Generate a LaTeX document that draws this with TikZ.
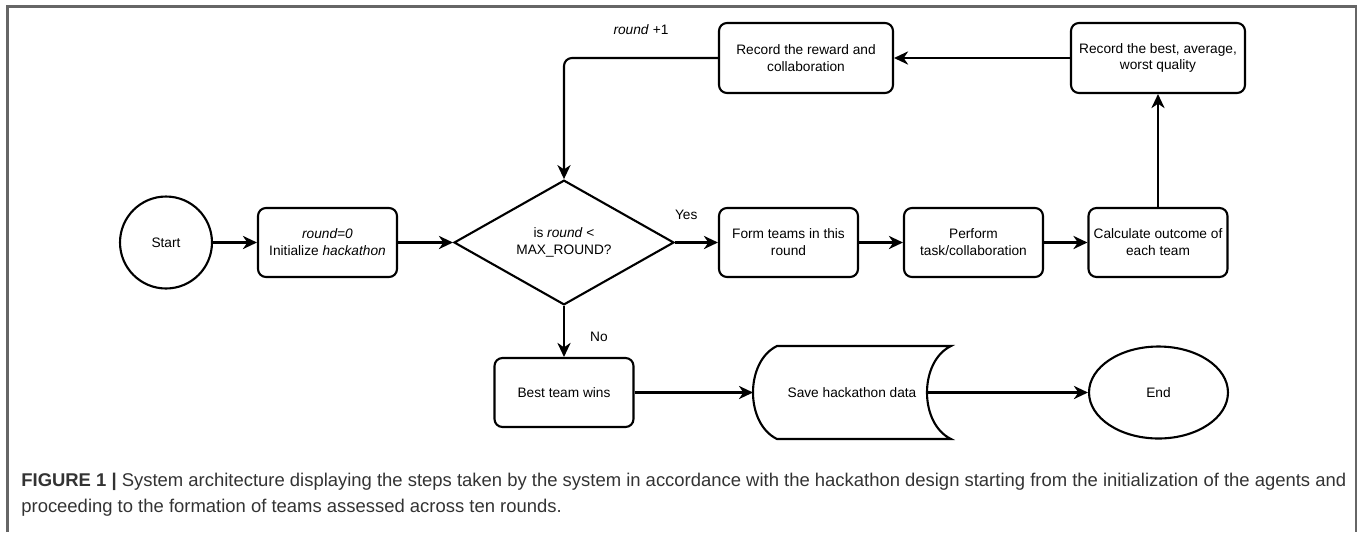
\documentclass[tikz,border=0pt]{standalone}
\usepackage{fontspec}
\setmainfont{Liberation Sans}
\usetikzlibrary{shapes.geometric, arrows.meta}

\begin{document}
\begin{tikzpicture}[x=0.02cm, y=-0.02cm,
	box/.style={draw, rounded corners=4.5pt, line width=1.2pt, align=center, minimum width=2.78cm, minimum height=1.38cm, inner sep=1pt, font=\fontsize{7.8}{9.6}\selectfont},
	widebox/.style={box, minimum width=3.48cm, minimum height=1.4cm},
	decision/.style={draw, diamond, line width=1.2pt, align=center, minimum width=4.4cm, minimum height=1.82cm, inner sep=0pt, font=\fontsize{7.8}{9.6}\selectfont},
	terminal/.style={draw, line width=1.2pt, inner sep=0pt, font=\fontsize{7.8}{9.6}\selectfont},
	arr/.style={line width=1.2pt, -{Stealth[length=8pt, width=7.5pt, inset=2.5pt]}},
	lbl/.style={font=\fontsize{7.8}{9.6}\selectfont, inner sep=1pt}]
	
	\useasboundingbox (0,0) rectangle (1360,532);
	
	% Zeichnet den grauen Rahmen (unten offen)
	\draw[black!60, line width=1.2pt] (7.5,532) -- (7.5,6.5) -- (1356,6.5) -- (1356,532);
	
	% Zeichnet Start und Initialisierung
	\node[terminal, circle, minimum size=1.84cm] (start) at (166,242.5) {Start};
	\node[box] (init) at (327.5,242.5) {\textit{round=0}\\Initialize \textit{hackathon}};
	
	% Zeichnet die Abfrage (Raute)
	\node[decision] (decide) at (564,242.5) {is \textit{round} <\\MAX\_ROUND?};
	
	% Zeichnet die Schritte einer Runde
	\node[box] (form) at (788.5,242.5) {Form teams in this\\round};
	\node[box] (perform) at (973.5,242.5) {Perform\\task/collaboration};
	\node[box] (calc) at (1158,242.5) {Calculate outcome of\\each team};
	\node[widebox] (recbest) at (1158,58) {Record the best, average,\\worst quality};
	\node[widebox] (recreward) at (806,58) {Record the reward and\\collaboration};
	
	% Zeichnet das Ende
	\node[box] (bestteam) at (564,392.5) {Best team wins};
	
	% Zeichnet die Speicher-Form (Daten sichern)
	\draw[line width=1.2pt] (777,346) -- (951,346) .. controls (919,361.5) and (919,423.5) .. (951,439)
		-- (777,439) .. controls (745,423.5) and (745,361.5) .. (777,346) -- cycle;
	\node[lbl] (save) at (852,392.5) {Save hackathon data};
	\coordinate (saveIn) at (753,392.5);
	\coordinate (saveOut) at (927,392.5);
	
	\node[terminal, ellipse, minimum width=2.78cm, minimum height=1.84cm] (finish) at (1158.5,392.5) {End};
	
	% Pfeile
	\draw[arr] (start) -- (init);
	\draw[arr] (init) -- (decide);
	\draw[arr] (decide) -- node[lbl, pos=0.26, yshift=0.56cm] {Yes} (form);
	\draw[arr] (form) -- (perform);
	\draw[arr] (perform) -- (calc);
	\draw[arr] (calc) -- (recbest);
	\draw[arr] (recbest) -- (recreward);
	\draw[arr, rounded corners=4.5pt] (recreward.west) -| node[lbl, pos=0.25, yshift=0.56cm] {\textit{round} +1} (decide.north);
	\draw[arr] (decide) -- node[lbl, pos=0.6, xshift=0.7cm] {No} (bestteam);
	\draw[arr] (bestteam) -- (saveIn);
	\draw[arr] (saveOut) -- (finish);
	
	% Bildunterschrift
	\node[anchor=north west, align=left, inner sep=0pt, text=black!80, font=\fontsize{10.5}{14.5}\selectfont] (caption) at (21,473)
		{\textbf{FIGURE 1 |} System architecture displaying the steps taken by the system in accordance with the hackathon design starting from the initialization of the agents and\\proceeding to the formation of teams assessed across ten rounds.};
	
\end{tikzpicture}
\end{document}
